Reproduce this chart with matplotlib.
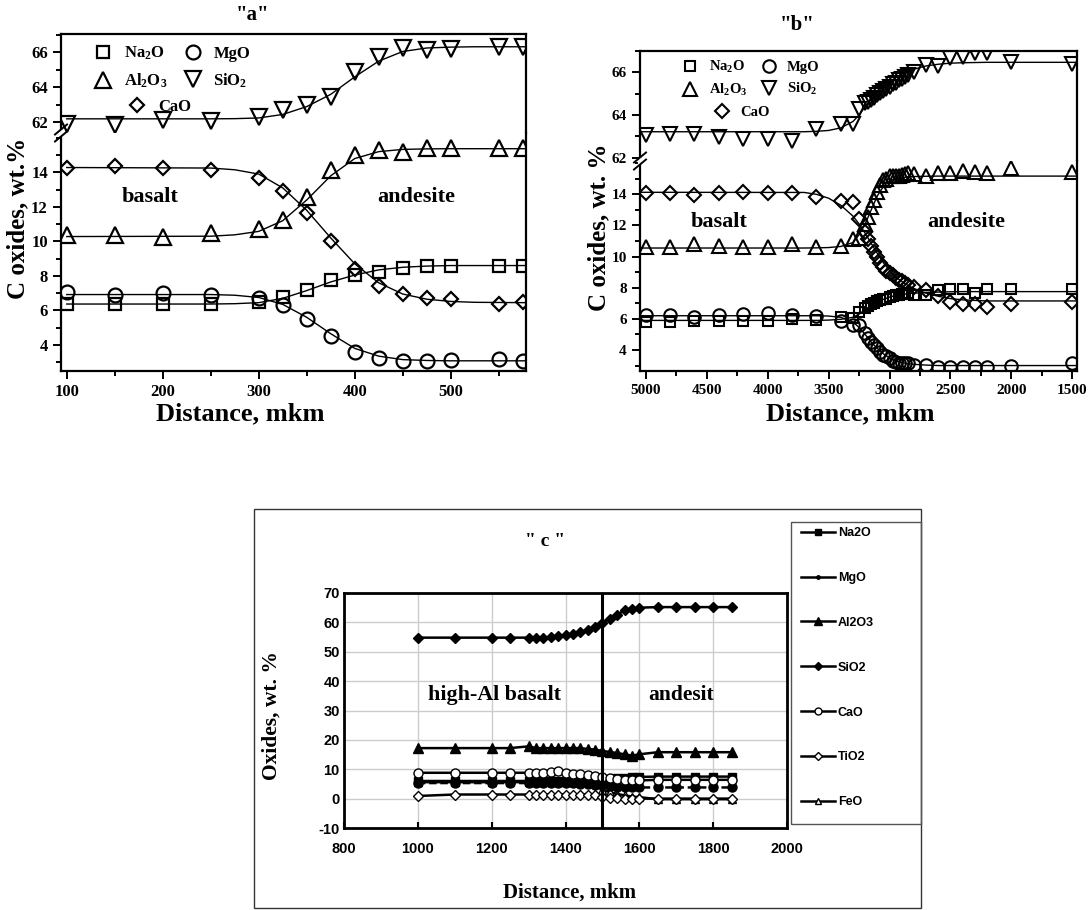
import numpy as np
import matplotlib
matplotlib.use('Agg')
import matplotlib.pyplot as plt
from matplotlib.lines import Line2D
from matplotlib.patches import Rectangle
from matplotlib.ticker import MultipleLocator

plt.rcParams['font.family'] = ['Liberation Serif', 'DejaVu Serif']
plt.rcParams['font.weight'] = 'bold'
plt.rcParams['mathtext.fontset'] = 'custom'
plt.rcParams['mathtext.rm'] = 'Liberation Serif:bold'
plt.rcParams['mathtext.it'] = 'Liberation Serif:bold'
plt.rcParams['mathtext.bf'] = 'Liberation Serif:bold'
plt.rcParams['axes.unicode_minus'] = False

# ---------------- Panel "a" data ----------------
a_x = [100, 150, 200, 250, 300, 325, 350, 375, 400, 425, 450, 475, 500, 550, 575]
a_na2o = [6.37, 6.37, 6.37, 6.37, 6.51, 6.8, 7.19, 7.76, 8.05, 8.25, 8.48, 8.59, 8.59, 8.59, 8.59]
a_mgo = [7.07, 6.92, 6.99, 6.92, 6.74, 6.32, 5.51, 4.54, 3.58, 3.27, 3.09, 3.09, 3.13, 3.21, 3.05]
a_al2o3 = [10.37, 10.37, 10.24, 10.47, 10.72, 11.24, 12.55, 14.13, 15.0, 15.29, 15.2, 15.39, 15.39, 15.39, 15.39]
a_cao = [14.27, 14.37, 14.27, 14.13, 13.69, 12.94, 11.63, 10.04, 8.38, 7.42, 6.95, 6.74, 6.64, 6.36, 6.51]
a_sio2 = [61.9, 61.85, 62.13, 62.1, 62.32, 62.7, 62.99, 63.47, 64.9, 65.71, 66.23, 66.13, 66.17, 66.32, 66.32]

a_fit_x = [100, 250, 275, 300, 325, 350, 375, 400, 425, 450, 475, 500, 525, 578]
a_fit_na2o = [6.37, 6.37, 6.39, 6.45, 6.7, 7.15, 7.65, 8.05, 8.35, 8.5, 8.57, 8.6, 8.6, 8.6]
a_fit_mgo = [6.92, 6.92, 6.88, 6.75, 6.35, 5.6, 4.65, 3.8, 3.35, 3.15, 3.1, 3.08, 3.08, 3.08]
a_fit_al2o3 = [10.28, 10.3, 10.38, 10.58, 11.2, 12.4, 13.8, 14.8, 15.2, 15.33, 15.36, 15.37, 15.37, 15.37]
a_fit_cao = [14.28, 14.25, 14.15, 13.9, 13.1, 11.8, 10.2, 8.7, 7.6, 6.95, 6.65, 6.52, 6.47, 6.45]
a_fit_sio2 = [62.2, 62.2, 62.21, 62.25, 62.45, 62.9, 63.6, 64.6, 65.5, 66.05, 66.25, 66.3, 66.32, 66.32]

# ---------------- Panel "b" data ----------------
b_x = [5000, 4800, 4600, 4400, 4200, 4000, 3800, 3600, 3400, 3300,
       3250, 3200, 3175, 3150, 3125, 3100, 3075, 3050, 3025, 3000,
       2975, 2950, 2925, 2900, 2875, 2850,
       2800, 2700, 2600, 2500, 2400, 2300, 2200, 2000, 1500]
b_na2o = [5.82, 5.82, 5.88, 5.88, 5.88, 5.88, 5.97, 5.92, 6.14, 6.05,
          6.46, 6.7, 6.85, 6.95, 7.05, 7.15, 7.2, 7.25, 7.3, 7.4,
          7.45, 7.5, 7.55, 7.6, 7.62, 7.65,
          7.53, 7.55, 7.85, 7.94, 7.94, 7.68, 7.94, 7.9, 7.94]
b_mgo = [6.25, 6.25, 6.14, 6.25, 6.31, 6.4, 6.25, 6.2, 5.86, 5.6,
         5.6, 5.07, 4.8, 4.5, 4.3, 4.1, 3.9, 3.7, 3.6, 3.46,
         3.3, 3.25, 3.18, 3.14, 3.14, 3.14,
         3.04, 3.04, 2.93, 2.93, 2.9, 2.93, 2.9, 2.97, 3.15]
b_al2o3 = [10.64, 10.64, 10.79, 10.7, 10.64, 10.64, 10.79, 10.6, 10.7, 11.11,
           11.17, 12.09, 12.57, 13.2, 13.64, 14.17, 14.6, 14.9, 15.0, 15.18,
           15.15, 15.2, 15.2, 15.25, 15.3, 15.35,
           15.3, 15.18, 15.39, 15.35, 15.52, 15.46, 15.39, 15.67, 15.41]
b_cao = [14.07, 14.07, 13.96, 14.07, 14.17, 14.1, 14.1, 13.8, 13.57, 13.49,
         12.39, 11.6, 11.1, 10.7, 10.3, 9.95, 9.6, 9.35, 9.1, 8.95,
         8.8, 8.65, 8.5, 8.4, 8.3, 8.2,
         8.07, 7.85, 7.47, 7.1, 6.95, 6.95, 6.78, 6.95, 7.06]
b_sio2 = [63.06, 63.1, 63.1, 62.98, 62.9, 62.9, 62.8, 63.37, 63.6, 63.58,
          64.27, 64.55, 64.6, 64.7, 64.8, 64.94, 65.05, 65.12, 65.2, 65.3,
          65.45, 65.52, 65.64, 65.7, 65.8, 65.88,
          66.0, 66.34, 66.3, 66.66, 66.7, 66.92, 66.92, 66.5, 66.38]

b_fit_x = [5047, 3700, 3600, 3500, 3400, 3300, 3250, 3200, 3150, 3100, 3050, 3000,
           2950, 2900, 2850, 2800, 2700, 2600, 2500, 2400, 2200, 2000, 1462]
b_fit_na2o = [5.9, 5.9, 5.9, 5.92, 5.97, 6.1, 6.3, 6.6, 6.85, 7.05, 7.25, 7.4,
              7.5, 7.56, 7.62, 7.65, 7.7, 7.72, 7.74, 7.75, 7.75, 7.75, 7.75]
b_fit_mgo = [6.2, 6.2, 6.2, 6.18, 6.1, 5.8, 5.45, 5.0, 4.5, 4.1, 3.75, 3.5,
             3.3, 3.2, 3.12, 3.08, 3.03, 3.0, 3.0, 3.0, 3.0, 3.0, 3.0]
b_fit_al2o3 = [10.55, 10.55, 10.56, 10.58, 10.65, 10.9, 11.4, 12.1, 13.0, 13.9, 14.5, 14.85,
               15.0, 15.08, 15.12, 15.14, 15.16, 15.17, 15.17, 15.17, 15.17, 15.17, 15.17]
b_fit_cao = [14.13, 14.12, 14.0, 13.75, 13.3, 12.6, 12.1, 11.5, 10.85, 10.2, 9.6, 9.1,
             8.7, 8.4, 8.15, 7.95, 7.65, 7.45, 7.3, 7.22, 7.15, 7.15, 7.15]
b_fit_sio2 = [63.22, 63.22, 63.24, 63.28, 63.4, 63.7, 64.0, 64.4, 64.75, 65.05, 65.3, 65.55,
              65.75, 65.9, 66.05, 66.15, 66.3, 66.38, 66.43, 66.45, 66.47, 66.47, 66.47]

# ---------------- Panel "c" data ----------------
c_x = [1000, 1100, 1200, 1250, 1300, 1320, 1340, 1360, 1380, 1400, 1420, 1440, 1460,
       1480, 1500, 1520, 1540, 1560, 1580, 1600, 1650, 1700, 1750, 1800, 1850]
c_na2o = [6.0, 6.0, 6.0, 6.0, 6.0, 6.0, 6.0, 6.0, 6.0, 6.0, 6.0, 6.0, 6.0,
          6.1, 6.3, 6.6, 6.9, 7.1, 7.3, 7.4, 7.5, 7.5, 7.5, 7.5, 7.5]
c_mgo = [5.3, 5.3, 5.3, 5.3, 5.3, 5.3, 5.3, 5.3, 5.3, 5.3, 5.2, 5.1, 5.0,
         4.8, 4.5, 4.3, 4.1, 4.0, 3.9, 3.8, 3.8, 3.8, 3.8, 3.8, 3.8]
c_al2o3 = [17.2, 17.2, 17.2, 17.2, 17.8, 17.2, 17.2, 17.2, 17.2, 17.2, 17.2, 17.2, 16.9,
           16.7, 16.2, 15.9, 15.5, 15.1, 14.6, 15.1, 15.8, 15.8, 15.8, 15.8, 15.8]
c_sio2 = [54.8, 54.8, 54.8, 54.8, 54.8, 54.8, 54.8, 55.0, 55.2, 55.6, 56.2, 56.7, 57.3,
          58.4, 59.9, 61.3, 62.6, 64.1, 64.7, 65.0, 65.2, 65.2, 65.2, 65.2, 65.2]
c_cao = [8.8, 8.8, 8.8, 8.8, 8.8, 8.8, 8.8, 9.1, 9.4, 8.8, 8.5, 8.5, 8.2,
         7.7, 7.4, 7.0, 6.6, 6.2, 6.2, 6.2, 6.4, 6.4, 6.4, 6.4, 6.4]
c_tio2 = [0.9, 1.4, 1.4, 1.4, 1.4, 1.4, 1.4, 1.4, 1.4, 1.4, 1.4, 1.4, 1.4,
          1.2, 0.6, 0.3, 0.1, 0.0, 0.0, 0.0, 0.0, 0.0, 0.0, 0.0, 0.0]
c_feo = [5.6, 5.6, 5.6, 5.6, 5.6, 5.6, 5.6, 5.6, 5.6, 5.6, 5.6, 5.6, 5.6,
         5.2, 3.0, 2.2, 1.6, 1.1, 0.7, 0.5, -0.2, -0.2, -0.2, -0.2, -0.2]
c_boundary = 1500

W, H = 1089, 910
fig = plt.figure(figsize=(W / 100, H / 100), dpi=100)


def rect(l, t, r, b):
    return [l / W, 1 - b / H, (r - l) / W, (b - t) / H]


def fx(px):
    return px / W


def fy(py):
    return 1 - py / H


def style_pair(ax_up, ax_lo, fs, up_ticks, lo_ticks):
    for ax in (ax_up, ax_lo):
        for s in ax.spines.values():
            s.set_linewidth(1.6)
        ax.tick_params(which='both', direction='out', top=False, right=False,
                       width=1.4, labelsize=fs)
        ax.tick_params(which='major', length=6)
        ax.tick_params(which='minor', length=3.5)
        ax.yaxis.set_minor_locator(MultipleLocator(1))
    ax_up.spines['bottom'].set_visible(False)
    ax_lo.spines['top'].set_visible(False)
    ax_up.tick_params(which='both', bottom=False, labelbottom=False)
    ax_up.set_yticks(up_ticks)
    ax_lo.set_yticks(lo_ticks)
    for ax in (ax_up, ax_lo):
        for lab in ax.get_xticklabels() + ax.get_yticklabels():
            lab.set_fontweight('bold')
    # break marks on the left spine
    pos = ax_lo.get_position()
    wpx = pos.width * W
    hpx = pos.height * H
    tr = ax_lo.transAxes
    ax_lo.plot([0, 0], [1 - 3 / hpx, 1 + 3 / hpx], transform=tr, color='white',
               lw=3, clip_on=False, zorder=10, solid_capstyle='butt')
    for dy in (-3.5, 3.5):
        ax_lo.plot([-6 / wpx, 6 / wpx], [1 + (dy - 5) / hpx, 1 + (dy + 5) / hpx],
                   transform=tr, color='k', lw=1.4, clip_on=False, zorder=11)


def draw_panel(ax_up, ax_lo, x, data, fx_, fits, ms, mew):
    markers = {'na2o': 's', 'mgo': 'o', 'al2o3': '^', 'cao': 'D', 'sio2': 'v'}
    sizes = {'s': ms * 0.85, 'o': ms, '^': ms * 1.1, 'v': ms * 1.1, 'D': ms * 0.75}
    for key in ['na2o', 'mgo', 'al2o3', 'cao']:
        ax_lo.plot(fx_, fits[key], color='k', lw=1.0, zorder=2)
        m = markers[key]
        ax_lo.plot(x, data[key], linestyle='none', marker=m, ms=sizes[m], mfc='none',
                   mec='k', mew=mew, zorder=3)
    ax_up.plot(fx_, fits['sio2'], color='k', lw=1.0, zorder=2)
    ax_up.plot(x, data['sio2'], linestyle='none', marker='v', ms=sizes['v'], mfc='none',
               mec='k', mew=mew, zorder=3)
    return sizes


def add_legend(ax, sizes, mew, fs, anchor1, anchor2, colsp, row_sp):
    def h(m):
        return Line2D([], [], linestyle='none', marker=m, ms=sizes[m], mfc='none', mec='k', mew=mew)
    lab = {'s': r'Na$_{2}$O', 'o': 'MgO', '^': r'Al$_{2}$O$_{3}$', 'v': r'SiO$_{2}$', 'D': 'CaO'}
    l1 = ax.legend([h('s'), h('^'), h('o'), h('v')], [lab['s'], lab['^'], lab['o'], lab['v']],
                   ncol=2, frameon=False, loc='upper left',
                   bbox_to_anchor=anchor1, bbox_transform=fig.transFigure,
                   borderpad=0, borderaxespad=0, handlelength=1.0, handletextpad=0.75,
                   columnspacing=colsp, labelspacing=row_sp,
                   prop={'family': 'Liberation Serif', 'weight': 'bold', 'size': fs})
    ax.add_artist(l1)
    ax.legend([h('D')], [lab['D']], frameon=False, loc='upper left',
              bbox_to_anchor=anchor2, bbox_transform=fig.transFigure,
              borderpad=0, borderaxespad=0, handlelength=1.0, handletextpad=0.75,
              prop={'family': 'Liberation Serif', 'weight': 'bold', 'size': fs})


# ===================== Panel a =====================
a_up = fig.add_axes(rect(61, 34, 526, 133))
a_lo = fig.add_axes(rect(61, 133, 526, 371))
a_data = dict(na2o=a_na2o, mgo=a_mgo, al2o3=a_al2o3, cao=a_cao, sio2=a_sio2)
a_fits = dict(na2o=a_fit_na2o, mgo=a_fit_mgo, al2o3=a_fit_al2o3, cao=a_fit_cao, sio2=a_fit_sio2)
sz_a = draw_panel(a_up, a_lo, a_x, a_data, a_fit_x, a_fits, ms=10, mew=1.6)
for ax in (a_up, a_lo):
    ax.set_xlim(94, 578.4)
    ax.xaxis.set_major_locator(MultipleLocator(100))
    ax.xaxis.set_minor_locator(MultipleLocator(50))
a_up.set_ylim(61.39, 67.05)
a_lo.set_ylim(2.49, 16.28)
style_pair(a_up, a_lo, 12, [62, 64, 66], [4, 6, 8, 10, 12, 14])
add_legend(a_up, sz_a, 1.6, 12, (fx(95), fy(45)), (fx(129), fy(99)), 1.0, 0.55)
fig.text(fx(150), fy(197), 'basalt', fontsize=16, fontweight='bold', ha='center', va='center')
fig.text(fx(416), fy(197), 'andesite', fontsize=16, fontweight='bold', ha='center', va='center')
fig.text(fx(253), fy(15), '"a"', fontsize=15, fontweight='bold', ha='center', va='center')
fig.text(fx(240), fy(414), 'Distance, mkm', fontsize=19, fontweight='bold', ha='center', va='center')
fig.text(fx(18), fy(218), 'C oxides, wt.%', fontsize=18, fontweight='bold', ha='center',
         va='center', rotation=90)

# ===================== Panel b =====================
b_up = fig.add_axes(rect(640, 51, 1077, 161))
b_lo = fig.add_axes(rect(640, 161, 1077, 371))
b_data = dict(na2o=b_na2o, mgo=b_mgo, al2o3=b_al2o3, cao=b_cao, sio2=b_sio2)
b_fits = dict(na2o=b_fit_na2o, mgo=b_fit_mgo, al2o3=b_fit_al2o3, cao=b_fit_cao, sio2=b_fit_sio2)
sz_b = draw_panel(b_up, b_lo, b_x, b_data, b_fit_x, b_fits, ms=9, mew=1.5)
for ax in (b_up, b_lo):
    ax.set_xlim(5047, 1462)
    ax.xaxis.set_major_locator(MultipleLocator(500))
    ax.xaxis.set_minor_locator(MultipleLocator(250))
b_up.set_ylim(61.85, 67.0)
b_lo.set_ylim(2.65, 16.14)
style_pair(b_up, b_lo, 11, [62, 64, 66], [4, 6, 8, 10, 12, 14])
add_legend(b_up, sz_b, 1.5, 10.5, (fx(683), fy(59)), (fx(715), fy(106)), 1.0, 0.5)
fig.text(fx(719), fy(222), 'basalt', fontsize=16, fontweight='bold', ha='center', va='center')
fig.text(fx(966), fy(222), 'andesite', fontsize=16, fontweight='bold', ha='center', va='center')
fig.text(fx(797), fy(25), '"b"', fontsize=15, fontweight='bold', ha='center', va='center')
fig.text(fx(850), fy(414), 'Distance, mkm', fontsize=19, fontweight='bold', ha='center', va='center')
fig.text(fx(599), fy(227), 'C oxides, wt. %', fontsize=18, fontweight='bold', ha='center',
         va='center', rotation=90)

# ===================== Panel c =====================
fig.add_artist(Rectangle((fx(254), fy(908)), (921 - 254) / W, (908 - 509) / H,
                         transform=fig.transFigure, fill=False, ec='#333333', lw=1.0))
fig.add_artist(Rectangle((fx(791), fy(824)), (921 - 791) / W, (824 - 522) / H,
                         transform=fig.transFigure, fill=False, ec='#555555', lw=1.0))
c_ax = fig.add_axes(rect(344, 593, 787, 828))
c_ax.set_xlim(800, 2000)
c_ax.set_ylim(-10, 70)
c_ax.xaxis.set_major_locator(MultipleLocator(200))
c_ax.yaxis.set_major_locator(MultipleLocator(10))
c_ax.grid(True, color='#cccccc', lw=1.0)
c_ax.set_axisbelow(True)
for s in c_ax.spines.values():
    s.set_linewidth(2.0)
c_ax.tick_params(axis='x', direction='in', length=4, width=1.5, pad=10, top=False)
c_ax.tick_params(axis='y', direction='out', length=0, width=1.5, pad=3, right=False)
for lab in c_ax.get_xticklabels() + c_ax.get_yticklabels():
    lab.set_fontfamily('Liberation Sans')
    lab.set_fontweight('bold')
    lab.set_fontsize(10.5)

c_ax.axvline(c_boundary, color='k', lw=2.2, zorder=4)
lw_c = 1.8
c_ax.plot(c_x, c_feo, color='k', lw=lw_c, marker='^', ms=6, mfc='white', mec='k', mew=1.0, zorder=3)
c_ax.plot(c_x, c_tio2, color='k', lw=lw_c, marker='D', ms=5, mfc='white', mec='k', mew=1.0, zorder=3)
c_ax.plot(c_x, c_mgo, color='k', lw=lw_c, ls=(0, (3, 1.5)), marker='o', ms=6.5, mfc='k', mec='k', zorder=3)
c_ax.plot(c_x, c_na2o, color='k', lw=lw_c, marker='s', ms=5.5, mfc='k', mec='k', zorder=3)
c_ax.plot(c_x, c_cao, color='k', lw=lw_c, marker='o', ms=6.5, mfc='white', mec='k', mew=1.0, zorder=3)
c_ax.plot(c_x, c_al2o3, color='k', lw=lw_c, marker='^', ms=7, mfc='k', mec='k', zorder=3)
c_ax.plot(c_x, c_sio2, color='k', lw=lw_c, marker='D', ms=5.5, mfc='k', mec='k', zorder=3)

c_handles = [
    Line2D([], [], color='k', lw=1.8, marker='s', ms=5, mfc='k', mec='k'),
    Line2D([], [], color='k', lw=1.8, marker='o', ms=2.5, mfc='k', mec='k'),
    Line2D([], [], color='k', lw=1.8, marker='^', ms=6, mfc='k', mec='k'),
    Line2D([], [], color='k', lw=1.8, marker='D', ms=4.5, mfc='k', mec='k'),
    Line2D([], [], color='k', lw=1.8, marker='o', ms=5, mfc='white', mec='k'),
    Line2D([], [], color='k', lw=1.8, marker='D', ms=4, mfc='white', mec='k'),
    Line2D([], [], color='k', lw=1.8, marker='^', ms=5, mfc='white', mec='k'),
]
c_labels = ['Na2O', 'MgO', 'Al2O3', 'SiO2', 'CaO', 'TiO2', 'FeO']
c_ax.legend(c_handles, c_labels, loc='upper left', bbox_to_anchor=(fx(801), fy(527)),
            bbox_transform=fig.transFigure, frameon=False, borderpad=0, borderaxespad=0,
            handlelength=2.7, handletextpad=0.25, labelspacing=2.63,
            prop={'family': 'Liberation Sans', 'weight': 'bold', 'size': 9})

fig.text(fx(545), fy(542), '" c "', fontsize=14, fontweight='bold', ha='center', va='center')
fig.text(fx(495), fy(695), 'high-Al basalt', fontsize=15.8, fontweight='bold', ha='center', va='center')
fig.text(fx(681), fy(695), 'andesit', fontsize=15.5, fontweight='bold', ha='center', va='center')
fig.text(fx(570), fy(893), 'Distance, mkm', fontsize=15, fontweight='bold', ha='center', va='center')
fig.text(fx(272), fy(716), 'Oxides, wt. %', fontsize=15.5, fontweight='bold', ha='center',
         va='center', rotation=90)

fig.savefig('out.png', dpi=100)
